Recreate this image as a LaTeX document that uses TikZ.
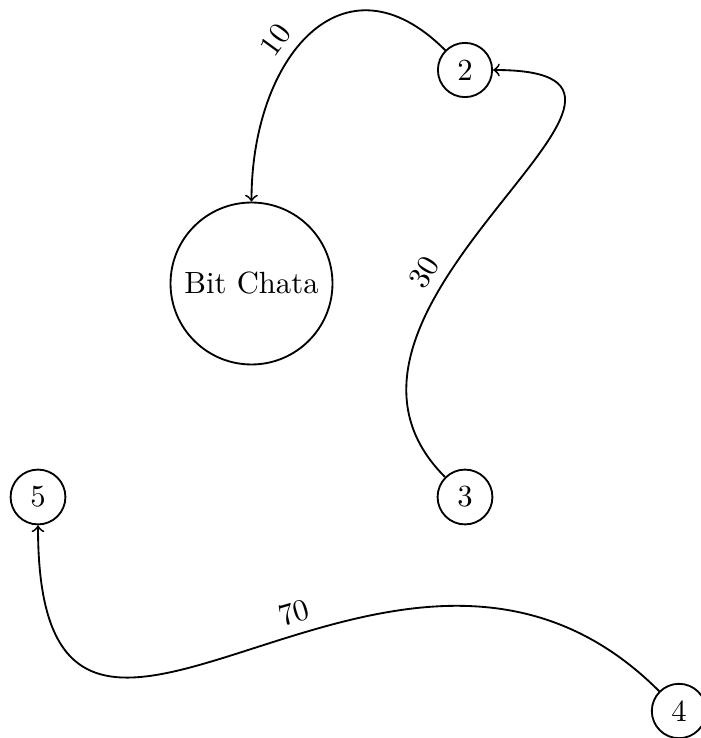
\documentclass[tikz,border=0pt]{standalone}
\usetikzlibrary{arrows}
\begin{document}
\begin{tikzpicture}[x=0.326pt,y=-0.326pt,
  vtx/.style={circle,draw,semithick},
  big/.style={circle,draw,semithick,minimum size=52.8pt},
  edge/.style={->,semithick,looseness=1.5},
  wlab/.style={sloped,above}]
\useasboundingbox (0,0) rectangle (700,738);
\node[vtx] (n2) at (465,70) {2};
\node[big] (bc) at (251.5,283.5) {Bit Chata};
\node[vtx] (n3) at (465,497) {3};
\node[vtx] (n5) at (38,497) {5};
\node[vtx] (n4) at (679,711) {4};
\draw[edge] (n2) to[out=135,in=90] node[wlab,pos=0.585] {10} (bc);
\draw[edge] (n3) to[out=135,in=0] node[wlab,pos=0.357] {30} (n2);
\draw[edge] (n4) to[out=135,in=-90] node[wlab,pos=0.432] {70} (n5);
\end{tikzpicture}
\end{document}
